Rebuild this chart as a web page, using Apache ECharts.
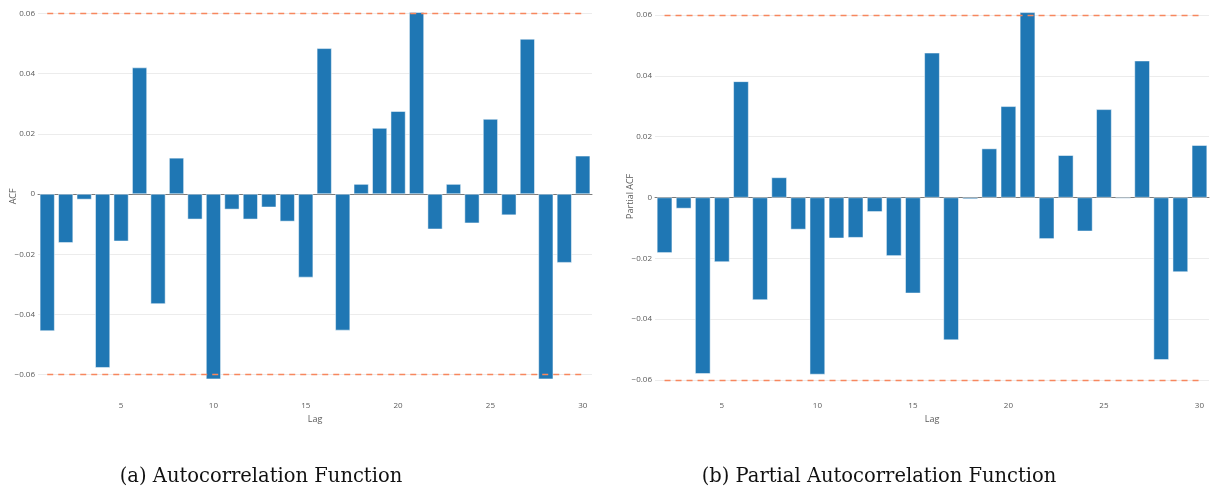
<!DOCTYPE html>
<html>
<head>
<meta charset="utf-8">
<script src="https://cdn.jsdelivr.net/npm/echarts@6/dist/echarts.min.js"></script>
<style>
  html, body { margin: 0; padding: 0; background: #fff; }
  #chart { width: 1214px; height: 493px; }
</style>
</head>
<body>
<div id="chart"></div>
<script>
// ACF, lags 1..30
const acfLags = ['1','2','3','4','5','6','7','8','9','10','11','12','13','14','15',
                 '16','17','18','19','20','21','22','23','24','25','26','27','28','29','30'];
const acfValues = [-0.0455, -0.0162, -0.0018, -0.0577, -0.0157, 0.0420, -0.0365, 0.0120, -0.0084, -0.0615,
                   -0.0051, -0.0084, -0.0044, -0.0091, -0.0277, 0.0484, -0.0453, 0.0033, 0.0219, 0.0275,
                   0.0604, -0.0117, 0.0033, -0.0097, 0.0249, -0.0070, 0.0515, -0.0615, -0.0228, 0.0127];

// PACF, lags 2..30
const pacfLags = ['2','3','4','5','6','7','8','9','10','11','12','13','14','15',
                  '16','17','18','19','20','21','22','23','24','25','26','27','28','29','30'];
const pacfValues = [-0.0182, -0.0036, -0.0580, -0.0212, 0.0382, -0.0337, 0.0066, -0.0105, -0.0582,
                    -0.0134, -0.0132, -0.0047, -0.0192, -0.0315, 0.0476, -0.0469, -0.0005, 0.0161, 0.0300,
                    0.0609, -0.0136, 0.0139, -0.0111, 0.0290, -0.0003, 0.0450, -0.0534, -0.0245, 0.0172];

const confBound = 0.06;
const captions = ['(a) Autocorrelation Function', '(b) Partial Autocorrelation Function'];

const barColor = '#1f77b4';
const boundColor = '#f7875e';
const tickColor = '#5a5a5a';

function fmt(v) {
  const s = String(parseFloat(Math.abs(v).toFixed(4)));
  return v < 0 ? '\u2212' + s : s;
}

function panelAxes(gridIndex, cats, name) {
  return [
    { // zero line
      type: 'category', gridIndex: gridIndex, data: cats, position: 'bottom',
      axisLine: { onZero: true, lineStyle: { color: '#7a7a7a', width: 1 } },
      axisTick: { show: false }, axisLabel: { show: false }, splitLine: { show: false }
    },
    { // tick labels at the bottom
      type: 'category', gridIndex: gridIndex, data: cats, position: 'bottom',
      axisLine: { show: false, onZero: false }, axisTick: { show: false },
      axisLabel: {
        interval: function (i, v) { return Number(v) % 5 === 0; },
        color: tickColor, fontFamily: 'Open Sans', fontSize: 8, margin: 9
      },
      name: name, nameLocation: 'middle', nameGap: 22,
      nameTextStyle: { color: tickColor, fontFamily: 'Open Sans', fontSize: 9 }
    }
  ];
}

function panelY(gridIndex, min, max, name) {
  return {
    type: 'value', gridIndex: gridIndex, min: min, max: max,
    splitNumber: 6, minInterval: 0.02, maxInterval: 0.02,
    axisLine: { show: false }, axisTick: { show: false },
    axisLabel: {
      formatter: fmt, showMinLabel: false, showMaxLabel: false,
      color: tickColor, fontFamily: 'Open Sans', fontSize: 8, margin: 3
    },
    splitLine: { show: true, showMinLine: false, showMaxLine: false,
                 lineStyle: { color: '#ececec', width: 1 } },
    name: name, nameLocation: 'middle', nameGap: 20, nameMoveOverlap: false,
    nameTextStyle: { color: tickColor, fontFamily: 'Open Sans', fontSize: 9 }
  };
}

function barSeries(axisIndex, cats, values) {
  const first = cats[0], last = cats[cats.length - 1];
  return {
    type: 'bar', xAxisIndex: axisIndex * 2, yAxisIndex: axisIndex,
    data: values, barWidth: '80%',
    itemStyle: { color: barColor, borderColor: '#ffffff', borderWidth: 0.5 },
    markLine: {
      silent: true, symbol: 'none', label: { show: false },
      lineStyle: { color: boundColor, type: [6, 5], width: 1.3 },
      data: [
        [{ coord: [first, confBound] }, { coord: [last, confBound] }],
        [{ coord: [first, -confBound] }, { coord: [last, -confBound] }]
      ]
    }
  };
}

const chart = echarts.init(document.getElementById('chart'), null, { renderer: 'canvas' });
const xAxes = panelAxes(0, acfLags, 'Lag').concat(panelAxes(1, pacfLags, 'Lag'));

chart.setOption({
  animation: false,
  backgroundColor: '#fff',
  grid: [
    { left: 38, top: 0, width: 554, height: 392.7 },
    { left: 655, top: 0, width: 554, height: 392.7 }
  ],
  xAxis: xAxes,
  yAxis: [
    panelY(0, -0.066, 0.06445, 'ACF'),
    panelY(1, -0.0642, 0.06497, 'Partial ACF')
  ],
  series: [
    barSeries(0, acfLags, acfValues),
    barSeries(1, pacfLags, pacfValues)
  ],
  graphic: [
    { type: 'text', x: 261, y: 477,
      style: { text: captions[0], align: 'center', verticalAlign: 'middle', textAlign: 'center', textVerticalAlign: 'middle',
               font: '19.5px "DejaVu Serif"', fill: '#111' } },
    { type: 'text', x: 879, y: 477,
      style: { text: captions[1], align: 'center', verticalAlign: 'middle', textAlign: 'center', textVerticalAlign: 'middle',
               font: '19.5px "DejaVu Serif"', fill: '#111' } }
  ]
});
</script>
</body>
</html>
